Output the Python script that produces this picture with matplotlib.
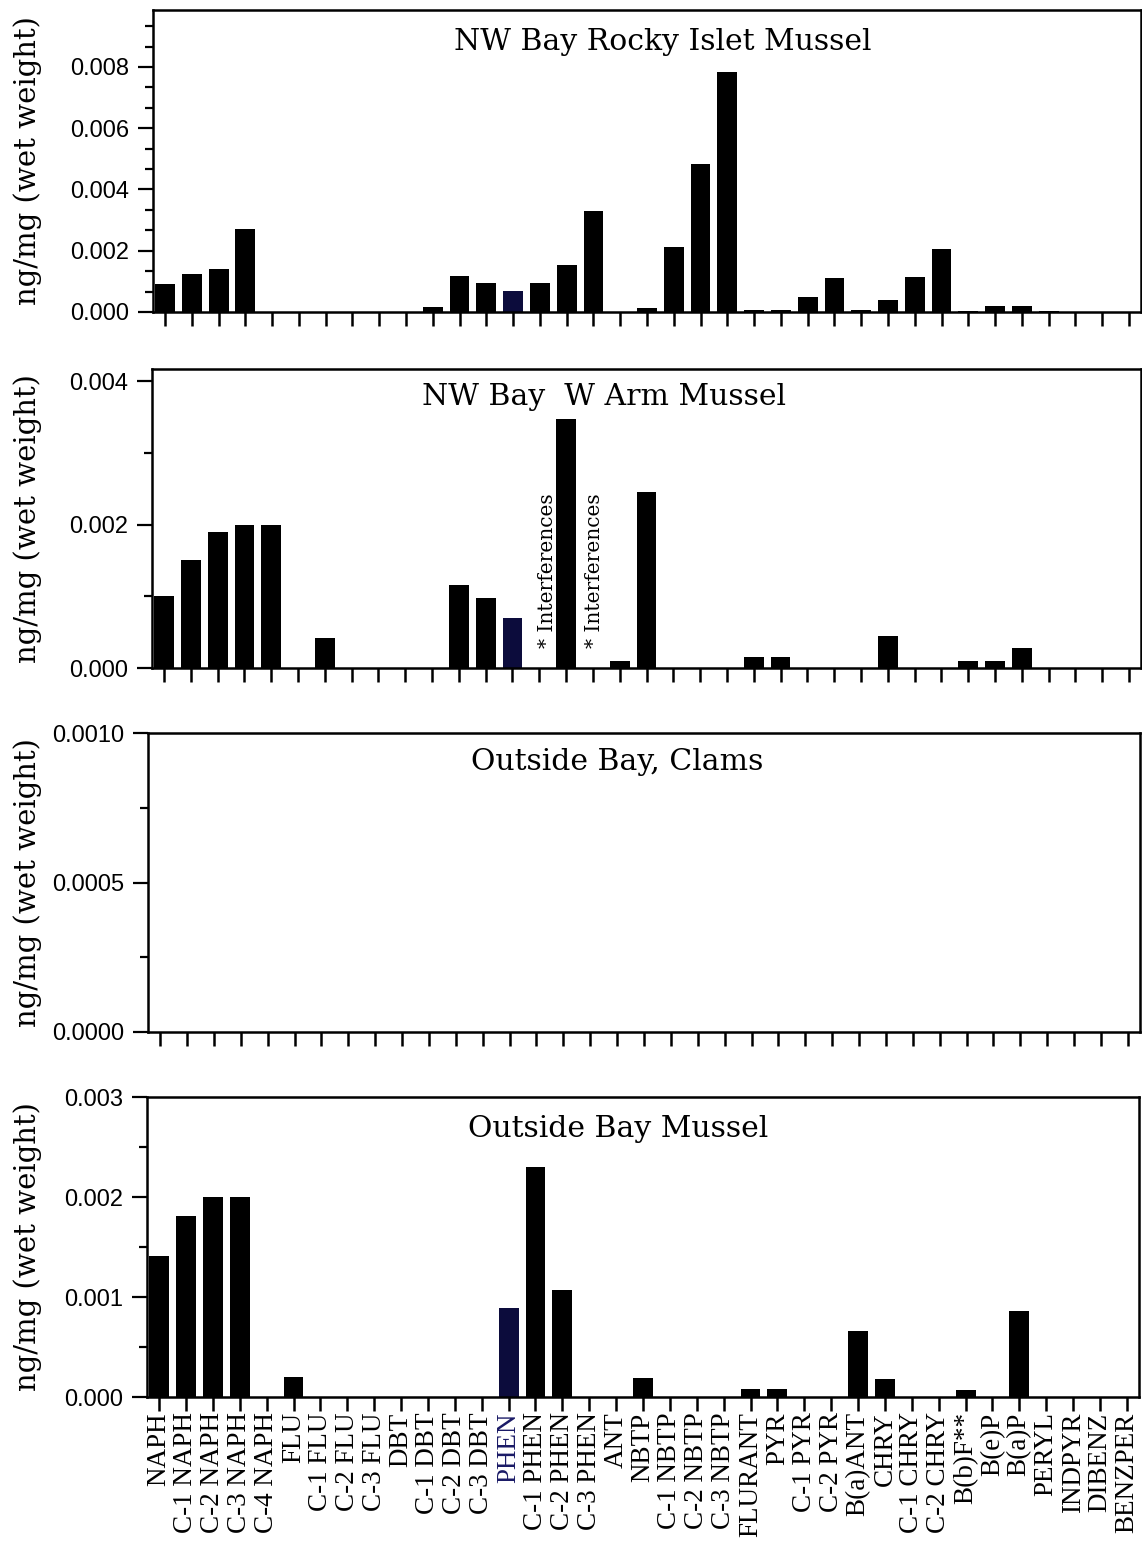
import matplotlib.pyplot as plt
from matplotlib.ticker import MultipleLocator, AutoMinorLocator, FormatStrFormatter

compuestos = ["NAPH", "C-1 NAPH", "C-2 NAPH", "C-3 NAPH", "C-4 NAPH",
              "FLU", "C-1 FLU", "C-2 FLU", "C-3 FLU",
              "DBT", "C-1 DBT", "C-2 DBT", "C-3 DBT",
              "PHEN", "C-1 PHEN", "C-2 PHEN", "C-3 PHEN", "ANT",
              "NBTP", "C-1 NBTP", "C-2 NBTP", "C-3 NBTP",
              "FLURANT", "PYR", "C-1 PYR", "C-2 PYR",
              "B(a)ANT", "CHRY", "C-1 CHRY", "C-2 CHRY",
              "B(b)F**", "B(e)P", "B(a)P", "PERYL", "INDPYR", "DIBENZ", "BENZPER"]

# ng/mg peso humedo
rocky_islet = [0.0009, 0.00124, 0.00142, 0.00272, 0, 0, 0, 0, 0,
               0, 0.00016, 0.00118, 0.00095,
               0.0007, 0.00095, 0.00153, 0.0033, 0,
               0.00013, 0.00212, 0.00483, 0.00784,
               0.00005, 0.00006, 0.0005, 0.0011,
               0.00005, 0.0004, 0.00115, 0.00205,
               0.00004, 0.0002, 0.00018, 0.00003, 0, 0, 0]
w_arm = [0.001, 0.0015, 0.0019, 0.002, 0.002, 0, 0.00042, 0, 0,
         0, 0, 0.00116, 0.00098,
         0.0007, 0, 0.00347, 0, 0.0001,
         0.00245, 0, 0, 0,
         0.00016, 0.00016, 0, 0,
         0, 0.00045, 0, 0,
         0.0001, 0.0001, 0.00028, 0, 0, 0, 0]
almejas = [0, 0, 0, 0, 0, 0, 0, 0, 0,
           0, 0, 0, 0,
           0, 0, 0, 0, 0,
           0, 0, 0, 0,
           0, 0, 0, 0,
           0, 0, 0, 0,
           0, 0, 0, 0, 0, 0, 0]
outside = [0.00141, 0.00181, 0.002, 0.002, 0, 0.0002, 0, 0, 0,
           0, 0, 0, 0,
           0.00089, 0.0023, 0.00107, 0, 0,
           0.00019, 0, 0, 0,
           0.00008, 0.00008, 0, 0,
           0.00066, 0.00018, 0, 0,
           0.00007, 0, 0.00086, 0, 0, 0, 0]
interferencias = ["C-1 PHEN", "C-3 PHEN"]

W, H = 1142, 1557
fig = plt.figure(figsize=(W / 100, H / 100), dpi=100)
SERIF = "DejaVu Serif"
NAVY = "#0c0c3c"

paneles = [
    # (left, right, top, bottom) px, titulo, datos, ymax, paso, minor, fmt, titulo_x, titulo_y
    ((153, 1141, 10, 312), "NW Bay Rocky Islet Mussel", rocky_islet, 0.00986, 0.002, 3, "%.3f", 663, 50),
    ((152, 1141, 369, 668), "NW Bay  W Arm Mussel", w_arm, 0.00417, 0.002, 2, "%.3f", 604, 405),
    ((148, 1140, 733, 1032), "Outside Bay, Clams", almejas, 0.001, 0.0005, 2, "%.4f", 617, 770),
    ((147, 1139, 1097, 1397), "Outside Bay Mussel", outside, 0.003, 0.001, 2, "%.3f", 618, 1137),
]

x = list(range(len(compuestos)))
for i, (caja, titulo, datos, ymax, paso, nminor, fmt, tx, ty) in enumerate(paneles):
    l, r, t, b = caja
    ax = fig.add_axes([l / W, 1 - b / H, (r - l) / W, (b - t) / H])
    colores = [NAVY if c == "PHEN" else "black" for c in compuestos]
    ax.bar(x, datos, width=0.74, color=colores)
    ax.set_xlim(-0.45, 36.45)
    ax.set_ylim(0, ymax)
    ax.yaxis.set_major_locator(MultipleLocator(paso))
    ax.yaxis.set_minor_locator(AutoMinorLocator(nminor))
    ax.yaxis.set_major_formatter(FormatStrFormatter(fmt))
    ax.set_xticks(x)
    for s in ax.spines.values():
        s.set_linewidth(1.8)
    ax.tick_params(axis="x", direction="out", length=10, width=1.8, pad=1)
    ax.tick_params(axis="y", which="major", direction="out", length=11, width=1.6, pad=6)
    ax.tick_params(axis="y", which="minor", direction="out", length=5.5, width=1.6)
    for lab in ax.get_yticklabels():
        lab.set_family("Liberation Sans")
        lab.set_fontsize(17)
    if i == len(paneles) - 1:
        ax.set_xticklabels(compuestos, rotation=90, family="Liberation Serif", fontsize=19.5)
        for lab in ax.get_xticklabels():
            if lab.get_text() == "PHEN":
                lab.set_color("#1a1a66")
    else:
        ax.set_xticklabels([])
    if titulo.startswith("NW Bay  W"):
        for nombre, dx in zip(interferencias, [0.3, 0.05]):
            ax.text(compuestos.index(nombre) + dx, 0.00028, "* Interferences",
                    rotation=90, ha="center", va="bottom", family=SERIF, fontsize=14.5)
    fig.text(tx / W, 1 - ty / H, titulo, ha="center", va="baseline", family=SERIF, fontsize=21.5)
    fig.text(28 / W, 1 - (t + b) / 2 / H, "ng/mg (wet weight)", rotation=90,
             ha="center", va="center", family=SERIF, fontsize=21)

fig.savefig("out.png", dpi=100)
